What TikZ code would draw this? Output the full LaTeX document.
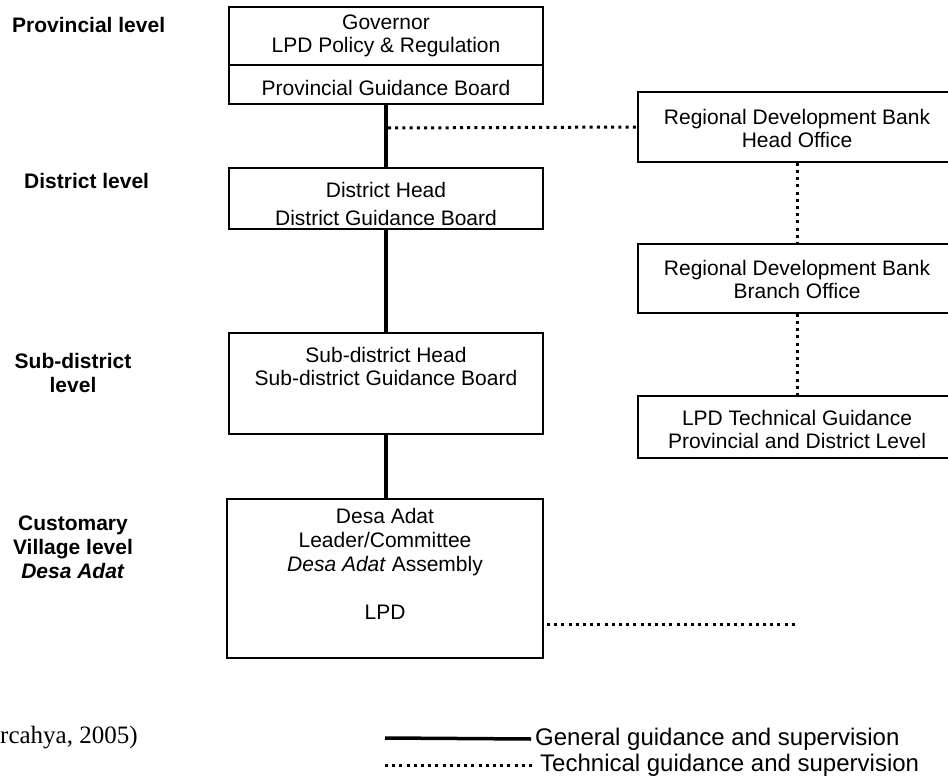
\documentclass[tikz,border=0pt]{standalone}
\usepackage{fontspec}
\setmainfont{Liberation Sans}
\newfontfamily\citefont{Liberation Serif}
\usetikzlibrary{calc}

\tikzset{
	box/.style={draw, line width=1.6pt, align=center, inner sep=0pt, font=\fontsize{21}{23}\selectfont},
	lvl/.style={align=center, inner sep=0pt, font=\fontsize{21}{24}\selectfont\bfseries},
	general/.style={line width=3.5pt},
	technical/.style={line width=3pt, dash pattern=on 3pt off 4.2pt},
	legtext/.style={anchor=west, inner xsep=4pt, inner ysep=0pt, font=\fontsize{24}{26}\selectfont}
}
% first line pushed down a bit inside its box
\newcommand{\lowstrut}[1]{\rule{0pt}{#1pt}}

\begin{document}
\begin{tikzpicture}[x=1pt, y=-1pt]
		\useasboundingbox (0,0) rectangle (948,778);
		%%%%% START %%%%%
		
		% levels
		\node[lvl, anchor=west] (lprov) at (12,25) {Provincial level};
		\node[lvl, anchor=west] (ldist) at (24,181) {District level};
		\node[lvl] (lsub) at (73,373) {Sub-district\\level};
		\node[lvl] (lvil) at (73,547) {Customary\\Village level\\\textit{Desa Adat}};
		
		% general line
		\node[box, minimum width=314pt, minimum height=58pt] (gov) at (386,36) {\strut Governor\\\strut LPD Policy \& Regulation};
		\node[box, minimum width=314pt, minimum height=39pt] (pgb) at (386,84.5) {\lowstrut{28}\strut Provincial Guidance Board};
		\node[box, minimum width=314pt, minimum height=61pt] (dh) at (386,198.5) {\lowstrut{26}District Head\\[5pt]District Guidance Board};
		\node[box, minimum width=314pt, minimum height=101pt] (sdh) at (386,383.5) {\strut Sub-district Head\\\strut Sub-district Guidance Board\\[5pt]\strut};
		\node[box, font=\fontsize{21}{24}\selectfont, minimum width=316pt, minimum height=159pt] (desa) at (385,578.5)
			{\strut Desa Adat\\\strut Leader/Committee\\\strut\textit{Desa Adat} Assembly\\[24pt]\strut LPD\\\strut};
		
		\draw[general] (pgb) -- (dh);
		\draw[general] (dh) -- (sdh);
		\draw[general] (sdh) -- (386,499);
		
		% technical line
		\node[box, minimum width=318pt, minimum height=70pt] (rdbh) at (797,127) {\lowstrut{24}Regional Development Bank\\\strut Head Office};
		\node[box, minimum width=318pt, minimum height=69pt] (rdbb) at (797,278.5) {\lowstrut{24}Regional Development Bank\\\strut Branch Office};
		\node[box, minimum width=318pt, minimum height=62pt] (tech) at (797,427) {\lowstrut{26}LPD Technical Guidance\\\strut Provincial and District Level};
		
		\coordinate (j) at (388,128);
		\draw[technical] (j) -- (rdbh.west);
		\draw[technical] (rdbh) -- (rdbb);
		\draw[technical] (rdbb) -- (tech);
		
		\coordinate (lpdA) at (547,624);
		\coordinate (lpdB) at (796,624);
		\draw[technical] (lpdA) -- (lpdB);
		
		% source and legend
		\node[anchor=west, inner sep=0pt, font=\citefont\fontsize{25}{28}\selectfont] (src) at (0,738) {rcahya, 2005)};
		
		\node[legtext] (lgen) at (531,739) {General guidance and supervision};
		\node[legtext] (ltech) at (536,765) {Technical guidance and supervision};
		\coordinate (genA) at (385,738);
		\coordinate (techA) at (385,765);
		\draw[general] (genA) -- (lgen.west);
		\draw[technical] (techA) -- (ltech.west);
		
		%%%%% END %%%%%
\end{tikzpicture}
\end{document}
